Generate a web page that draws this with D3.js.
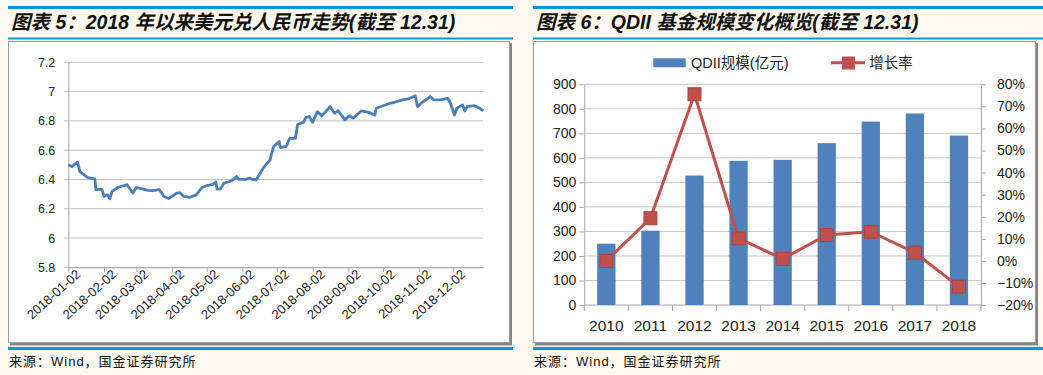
<!DOCTYPE html>
<html>
<head>
<meta charset="utf-8">
<script src="https://cdn.jsdelivr.net/npm/d3@7"></script>
<style>
  body { margin: 0; background: #fef9ee; }
  svg text { font-family: "Liberation Sans", "Noto Sans CJK SC", sans-serif; }
  .title { font-size: 19.5px; font-weight: bold; font-style: italic; fill: #111; }
  .source { font-size: 13px; fill: #111; letter-spacing: 1px; }
  .axis path, .axis line { stroke: #a6a6a6; }
  .axis text { fill: #222; }
</style>
</head>
<body>
<div id="chart"></div>
<script>
// ---------- data: USD/CNY 2018 ----------
var fxDates = ["2018-01-02","2018-01-05","2018-01-10","2018-01-12","2018-01-19","2018-01-25","2018-01-26","2018-01-31",
  "2018-02-02","2018-02-05","2018-02-07","2018-02-09","2018-02-14","2018-02-22","2018-02-27",
  "2018-03-02","2018-03-07","2018-03-12","2018-03-16","2018-03-22","2018-03-26","2018-03-30",
  "2018-04-06","2018-04-09","2018-04-12","2018-04-17","2018-04-23","2018-04-28",
  "2018-05-03","2018-05-07","2018-05-10","2018-05-11","2018-05-14","2018-05-17","2018-05-22","2018-05-25","2018-05-28","2018-05-30",
  "2018-06-05","2018-06-08","2018-06-11","2018-06-14","2018-06-20","2018-06-26","2018-06-29",
  "2018-07-04","2018-07-05","2018-07-10","2018-07-13","2018-07-18","2018-07-20","2018-07-25","2018-07-27","2018-07-30",
  "2018-08-02","2018-08-06","2018-08-10","2018-08-17","2018-08-21","2018-08-24","2018-08-30",
  "2018-09-03","2018-09-06","2018-09-13","2018-09-19","2018-09-25","2018-09-26",
  "2018-10-08","2018-10-12","2018-10-19","2018-10-24","2018-10-30",
  "2018-11-01","2018-11-05","2018-11-12","2018-11-15","2018-11-21","2018-11-27","2018-11-29",
  "2018-12-03","2018-12-05","2018-12-10","2018-12-12","2018-12-14","2018-12-20","2018-12-25","2018-12-28"];
var fxValues = [6.500,6.488,6.518,6.454,6.413,6.404,6.330,6.334,
  6.284,6.295,6.268,6.318,6.345,6.364,6.307,
  6.345,6.336,6.325,6.323,6.330,6.284,6.270,
  6.307,6.310,6.284,6.277,6.295,6.345,
  6.360,6.364,6.382,6.334,6.336,6.375,6.386,6.398,6.420,6.400,
  6.400,6.410,6.400,6.398,6.477,6.534,6.625,
  6.659,6.618,6.625,6.680,6.680,6.777,6.790,6.822,6.830,
  6.790,6.863,6.834,6.897,6.852,6.870,6.807,
  6.836,6.818,6.868,6.860,6.840,6.886,
  6.920,6.927,6.943,6.950,6.972,
  6.897,6.927,6.966,6.943,6.943,6.954,6.930,
  6.840,6.886,6.909,6.868,6.897,6.904,6.886,6.868];
var fxTicks = [5.8, 6, 6.2, 6.4, 6.6, 6.8, 7, 7.2];
var fxMonthTicks = ["2018-01-02","2018-02-02","2018-03-02","2018-04-02","2018-05-02","2018-06-02",
  "2018-07-02","2018-08-02","2018-09-02","2018-10-02","2018-11-02","2018-12-02"];

// ---------- data: QDII scale ----------
var years = ["2010","2011","2012","2013","2014","2015","2016","2017","2018"];
var qdiiSize = [250, 303, 528, 588, 592, 660, 748, 781, 691];
var qdiiGrowth = [0.000, 0.193, 0.755, 0.102, 0.009, 0.117, 0.132, 0.037, -0.117];
var sizeTicks = [0,100,200,300,400,500,600,700,800,900];
var growthTicks = [-0.2,-0.1,0,0.1,0.2,0.3,0.4,0.5,0.6,0.7,0.8];

var BLUE_RULE = "#0a96d8";
var parseDate = d3.timeParse("%Y-%m-%d");

var svg = d3.select("#chart").append("svg")
  .attr("width", 1043).attr("height", 375);
svg.append("rect").attr("width", 1043).attr("height", 375).attr("fill", "#fef9ee");

// frame: rules, title, white box, source line
var drawFrame = function(x0, x1, boxRight, title){
  svg.append("rect").attr("x", x0).attr("y", 6).attr("width", x1 - x0).attr("height", 3).attr("fill", BLUE_RULE);
  svg.append("text").attr("class", "title").attr("x", x0 + 3).attr("y", 28.5).text(title);
  svg.append("rect").attr("x", x0).attr("y", 37.5).attr("width", x1 - x0).attr("height", 2).attr("fill", BLUE_RULE);
  // box with a darker right/bottom edge
  svg.append("rect").attr("x", x0 + 2).attr("y", 43).attr("width", boxRight - x0 - 1).attr("height", 302.5).attr("fill", "#858585");
  svg.append("rect").attr("x", x0 + 0.5).attr("y", 41.5).attr("width", boxRight - x0 - 2).attr("height", 301)
    .attr("fill", "#fff").attr("stroke", "#9a9a9a").attr("stroke-width", 1);
  svg.append("rect").attr("x", x0).attr("y", 347).attr("width", x1 - x0).attr("height", 3).attr("fill", BLUE_RULE);
  svg.append("text").attr("class", "source").attr("x", x0 + 1).attr("y", 366).text("来源：Wind，国金证券研究所");
};

drawFrame(8, 513, 511, "图表 5：2018 年以来美元兑人民币走势(截至 12.31)");
drawFrame(533, 1043, 1037, "图表 6：QDII 基金规模变化概览(截至 12.31)");

// ---------------- left chart ----------------
var fxData = fxDates.map(function(d, i){ return {date: parseDate(d), value: fxValues[i]}; });

var xTime = d3.scaleTime()
  .domain([parseDate("2018-01-02"), parseDate("2018-12-28")])
  .range([68.3, 483.3]);
var yFx = d3.scaleLinear().domain([5.8, 7.2]).range([267.3, 62.3]);

var left = svg.append("g");

left.append("g").selectAll("line")
  .data(fxTicks).enter().append("line")
  .attr("x1", 64).attr("x2", 483.3)
  .attr("y1", function(d){ return yFx(d); }).attr("y2", function(d){ return yFx(d); })
  .attr("stroke", "#bdbdbd").attr("stroke-width", 1);

var yAxisFx = d3.axisLeft(yFx).tickValues(fxTicks).tickSize(0).tickPadding(13)
  .tickFormat(d3.format("~g"));
left.append("g").attr("class", "axis")
  .attr("transform", "translate(68.3,0)")
  .call(yAxisFx)
  .call(function(g){ g.selectAll("text").style("font-size", "12.5px"); });

var xAxisFx = d3.axisBottom(xTime)
  .tickValues(fxMonthTicks.map(parseDate))
  .tickSize(5).tickSizeOuter(0)
  .tickFormat(d3.timeFormat("%Y-%m-%d"));
left.append("g").attr("class", "axis")
  .attr("transform", "translate(0,267.3)")
  .call(xAxisFx)
  .call(function(g){
    g.select(".domain").attr("stroke", "#8c8c8c");
    g.selectAll("text")
      .style("font-size", "13px")
      .attr("text-anchor", "end")
      .attr("dx", "0.3em").attr("dy", "0.5em")
      .attr("transform", "rotate(-42)");
  });

var fxLine = d3.line()
  .x(function(d){ return xTime(d.date); })
  .y(function(d){ return yFx(d.value); });

left.append("path").datum(fxData)
  .attr("fill", "none")
  .attr("stroke", "#4a7ebb")
  .attr("stroke-width", 2.8)
  .attr("stroke-linejoin", "round")
  .attr("d", fxLine);

// ---------------- right chart ----------------
var xBand = d3.scaleBand().domain(years).range([584.3, 981])
  .paddingInner(0.585).paddingOuter(0.2925);
var ySize = d3.scaleLinear().domain([0, 900]).range([305, 84.3]);
var yGrowth = d3.scaleLinear().domain([-0.2, 0.8]).range([305, 84.3]);

var right = svg.append("g");

right.append("g").selectAll("line")
  .data(sizeTicks.slice(1)).enter().append("line")
  .attr("x1", 584.3).attr("x2", 981)
  .attr("y1", function(d){ return ySize(d); }).attr("y2", function(d){ return ySize(d); })
  .attr("stroke", "#c8c8c8");

right.append("g").attr("class", "axis")
  .attr("transform", "translate(584.3,0)")
  .call(d3.axisLeft(ySize).tickValues(sizeTicks).tickSize(5).tickSizeOuter(0).tickPadding(3))
  .call(function(g){ g.selectAll("text").style("font-size", "14px"); });

right.append("g").attr("class", "axis")
  .attr("transform", "translate(981,0)")
  .call(d3.axisRight(yGrowth).tickValues(growthTicks).tickSize(5).tickSizeOuter(0).tickPadding(11)
    .tickFormat(d3.format(".0%")))
  .call(function(g){ g.selectAll("text").style("font-size", "14px"); });

// x axis with ticks at category borders
var xAxisG = right.append("g").attr("class", "axis").attr("transform", "translate(0,305)");
xAxisG.append("line").attr("x1", 584.3).attr("x2", 981).attr("stroke", "#a6a6a6");
xAxisG.selectAll("line.border")
  .data(d3.range(years.length + 1)).enter().append("line").attr("class", "border")
  .attr("x1", function(i){ return xBand.range()[0] + i * xBand.step(); })
  .attr("x2", function(i){ return xBand.range()[0] + i * xBand.step(); })
  .attr("y1", 0).attr("y2", 6).attr("stroke", "#a6a6a6");
xAxisG.selectAll("text")
  .data(years).enter().append("text")
  .attr("x", function(d){ return xBand(d) + xBand.bandwidth() / 2; })
  .attr("y", 26)
  .attr("text-anchor", "middle")
  .style("font-size", "15.5px").attr("fill", "#222")
  .text(function(d){ return d; });

right.append("g").selectAll("rect")
  .data(years).enter().append("rect")
  .attr("x", function(d){ return xBand(d); })
  .attr("width", xBand.bandwidth())
  .attr("y", function(d, i){ return ySize(qdiiSize[i]); })
  .attr("height", function(d, i){ return ySize(0) - ySize(qdiiSize[i]); })
  .attr("fill", "#4f81bd");

var growthLine = d3.line()
  .x(function(d){ return xBand(d) + xBand.bandwidth() / 2; })
  .y(function(d, i){ return yGrowth(qdiiGrowth[i]); });

right.append("path").datum(years)
  .attr("fill", "none").attr("stroke", "#c0504d").attr("stroke-width", 3)
  .attr("d", growthLine);

right.append("g").selectAll("rect")
  .data(years).enter().append("rect")
  .attr("x", function(d){ return xBand(d) + xBand.bandwidth() / 2 - 6.5; })
  .attr("y", function(d, i){ return yGrowth(qdiiGrowth[i]) - 6.5; })
  .attr("width", 13).attr("height", 13)
  .attr("fill", "#c0504d").attr("stroke", "#b04440").attr("stroke-width", 1);

// legend
var legend = right.append("g");
legend.append("rect").attr("x", 653.3).attr("y", 58.3).attr("width", 32.4).attr("height", 9).attr("fill", "#4f81bd");
legend.append("text").attr("x", 691).attr("y", 68).style("font-size", "14.5px").attr("fill", "#222").text("QDII规模(亿元)");
legend.append("line").attr("x1", 831).attr("x2", 865).attr("y1", 62.7).attr("y2", 62.7)
  .attr("stroke", "#c0504d").attr("stroke-width", 3);
legend.append("rect").attr("x", 842).attr("y", 56.5).attr("width", 13).attr("height", 13).attr("fill", "#c0504d");
legend.append("text").attr("x", 869.3).attr("y", 68).style("font-size", "14.5px").attr("fill", "#222").text("增长率");
</script>
</body>
</html>
